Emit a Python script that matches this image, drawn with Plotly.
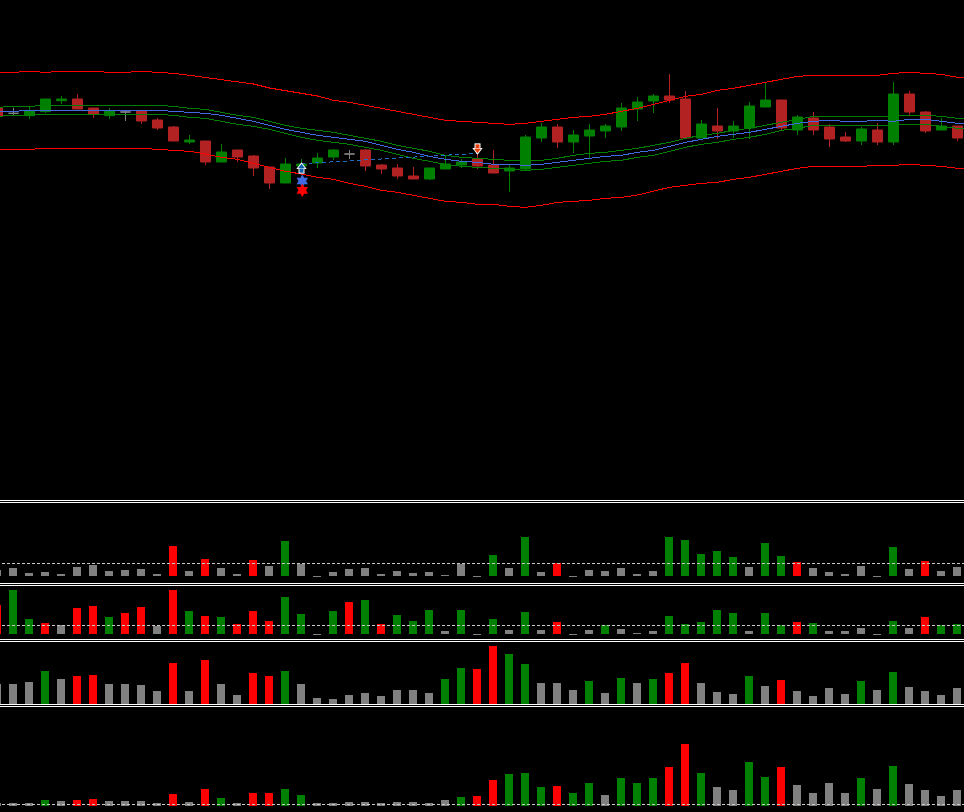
import plotly.graph_objects as go

bar_index = list(range(61))
line_index = list(range(62))

# Candles (i = 0..60)
open_ = [857,840,833,845,878,883,856,833,844,847,820,799,754,757,694,730,712,679,631,682,691,709,718,730,685,676,652,643,673,685,703,685,667,673,766,799,754,772,787,799,853,877,892,883,766,802,787,796,859,880,790,826,799,769,757,790,754,898,844,790,802]
high = [857,857,859,883,892,898,856,856,850,847,826,802,775,757,748,730,715,679,706,703,721,733,730,733,688,688,679,676,712,703,721,730,685,775,811,808,790,808,808,871,889,898,958,907,820,856,817,874,934,880,835,844,808,784,799,811,934,907,847,826,802]
low = [832,834,823,841,868,853,826,823,817,808,790,757,748,685,694,694,652,613,631,670,676,700,703,667,658,643,643,640,673,676,673,661,604,667,754,736,721,706,766,787,817,841,871,763,766,763,766,763,859,787,775,775,739,754,745,745,745,835,781,790,757]
close = [832,840,847,883,883,853,838,847,844,817,796,757,760,694,724,709,676,631,688,688,706,730,718,682,673,652,643,676,688,694,682,661,676,769,799,754,775,790,802,856,874,892,880,766,808,787,802,862,880,796,829,790,763,757,793,754,898,844,787,802,766]
doji_index = [1, 8, 22]

# Envelope bands
band_upper = [963,963,966,963,966,966,966,963,963,966,963,960,954,948,942,936,928,916,908,900,892,879,873,864,855,846,837,828,819,816,813,810,807,810,816,822,828,831,837,846,855,867,879,891,897,909,915,924,933,942,951,954,954,954,954,954,960,963,960,957,948,946]
band_lower = [732,732,732,735,735,735,735,735,735,735,732,729,726,718,708,702,690,678,666,658,648,642,630,621,609,603,594,585,576,573,567,567,561,558,564,573,576,579,585,588,595,606,618,624,630,633,642,648,657,666,675,681,681,681,681,684,684,687,684,681,675,673]
ma_mid = [846,846,849,849,849,849,849,849,849,849,849,846,843,840,834,825,816,804,792,783,774,768,762,756,744,732,723,711,702,696,693,687,687,684,687,693,699,705,711,714,723,729,741,753,762,771,777,783,792,801,810,816,819,816,816,819,816,822,822,816,810,808]
ma_upper = [858,861,861,864,864,864,864,864,864,864,864,861,855,852,843,834,828,816,804,795,789,783,774,765,756,744,735,726,714,708,705,702,699,699,699,705,714,720,723,729,735,744,753,765,774,780,789,795,804,813,822,831,831,831,831,831,831,834,834,831,825,823]
ma_lower = [831,834,834,837,837,837,837,837,837,837,837,834,828,825,816,807,801,792,780,768,759,753,747,738,729,717,705,696,687,681,678,675,672,669,672,678,684,690,696,699,708,714,726,738,747,753,762,768,777,789,795,804,804,804,804,804,804,807,807,801,795,793]

# Trade link and signals
trade_x = [19, 30]
trade_y = [689, 720]
star_blue_x, star_blue_y = [19.05], [637]
star_red_x, star_red_y = [19.05], [609]
buy_x = [19, 19, 19, 19]
buy_y = [668, 680, 668, 680]
sell_x = [30, 30, 30, 30]
sell_y = [741, 729, 741, 729]

# Volume panels
p1_values = [6,8,3,4,2,9,11,5,6,7,2,30,5,17,8,2,16,10,35,12,-1,4,7,8,2,5,3,4,1,12,-1,21,8,39,4,13,-1,6,5,8,2,5,39,36,22,25,19,9,33,20,14,8,4,2,10,-1,29,7,15,5,9]
p1_colors = "ggggggggggg" "rgrggrgGgg" "gggggggggg" "GgGgrggggg" "gGGGGGgGGr" "gggggGgrgg"
p2_values = [29,44,15,11,9,26,28,17,21,27,8,44,23,18,17,10,23,13,37,20,-1,23,32,34,10,19,13,24,3,24,-1,15,4,22,4,12,-1,4,9,5,1,3,18,10,12,24,21,3,21,9,12,11,3,3,6,-1,13,6,17,9,10]
p2_colors = "rGGrgrrGrrg" "rGrGrrrGGg" "GrGrGGGgGg" "GgGgrggGgg" "gGGGGGgGGr" "GggggGgrGG"
p3_values = [20,20,22,33,25,28,29,20,20,19,13,41,13,44,20,9,31,28,33,20,6,5,9,11,8,14,14,11,25,36,35,58,50,40,21,21,14,23,11,26,21,25,31,41,21,12,10,28,18,24,13,8,16,10,23,14,32,17,13,9,16]
p3_colors = "gggGgrrgggg" "rgrggrrGgg" "gggggggGGr" "rGGgggGgGg" "GrrgggGgrg" "gggGgGgggg"
p4_values = [3,3,3,6,5,6,7,5,5,5,3,12,4,17,8,3,13,13,17,11,3,3,4,4,3,4,4,3,6,9,10,26,32,33,19,20,13,23,11,28,23,28,39,62,33,19,16,44,29,39,21,13,23,13,28,17,40,22,16,10,16]
p4_colors = "gggGgrrgggg" "rgrGgrrGGg" "ggggggggGr" "rGGGrGGgGG" "GrrGggGGrg" "gggGgGgggg"
p1_level, p2_level, p4_level = 12.5, 8.5, 1.5

W, H = 964, 812
PALETTE = {"g": "#808080", "r": "#ff0000", "G": "#008000"}
CANDLE_UP, CANDLE_DOWN, DOJI = "#008000", "#b22222", "#808080"


def dom(top, bottom):
    return [1 - bottom / H, 1 - top / H]


fig = go.Figure()


def pick(arr, keep):
    return [v if keep(i) else None for i, v in enumerate(arr)]


is_doji = lambda i: i in doji_index
not_doji = lambda i: i not in doji_index

for keep, up, down in [(not_doji, CANDLE_UP, CANDLE_DOWN), (is_doji, DOJI, DOJI)]:
    fig.add_trace(go.Candlestick(
        x=bar_index,
        open=pick(open_, keep), high=pick(high, keep), low=pick(low, keep), close=pick(close, keep),
        increasing=dict(line=dict(color=up, width=1), fillcolor=up),
        decreasing=dict(line=dict(color=down, width=1), fillcolor=down),
        whiskerwidth=0, xaxis="x", yaxis="y", hoverinfo="skip",
    ))


def line(y, color, width=1, dash="solid", x=line_index):
    fig.add_trace(go.Scatter(x=x, y=y, mode="lines", line=dict(color=color, width=width, dash=dash),
                             xaxis="x", yaxis="y", hoverinfo="skip"))


line(ma_upper, "#008000")
line(ma_lower, "#008000")
line(ma_mid, "#4169e1")
line(band_upper, "#ff0000")
line(band_lower, "#ff0000")
line(trade_y, "#1e6ec8", dash="4px,3px", x=trade_x)


def marker(x, y, symbol, fill, size):
    fig.add_trace(go.Scatter(x=x, y=y, mode="markers",
                             marker=dict(symbol=symbol, color=fill, size=size, opacity=1, line=dict(width=0)),
                             xaxis="x", yaxis="y", hoverinfo="skip"))


marker(star_blue_x, star_blue_y, "hexagram", "#4169e1", 10)
marker(star_red_x, star_red_y, "hexagram", "#ff0000", 10)
marker(buy_x, buy_y, ["square", "triangle-up", "square", "triangle-up"],
       ["#ffffff", "#ffffff", "#0a5ea8", "#0a5ea8"], [6, 9, 4, 6])
marker(sell_x, sell_y, ["square", "triangle-down", "square", "triangle-down"],
       ["#ffffff", "#ffffff", "#e8400f", "#e8400f"], [6, 9, 4, 6])

panels = [
    (2, p1_values, p1_colors, p1_level, 503, 583, [-7, 73]),
    (3, p2_values, p2_colors, p2_level, 586, 639, [-5, 48]),
    (4, p3_values, p3_colors, None, 642, 704, [0, 62]),
    (5, p4_values, p4_colors, p4_level, 707, 812, [-6, 99]),
]
layout_axes = {}
hidden = dict(visible=False, showgrid=False, zeroline=False, fixedrange=True)
layout_axes["xaxis"] = dict(hidden, range=[2.5 / 16, 966.5 / 16], rangeslider=dict(visible=False), domain=[0, 1], anchor="y")
layout_axes["yaxis"] = dict(hidden, range=[-320, 1180], domain=dom(0, 500), anchor="x")

for n, vals, cols, level, top, bottom, yr in panels:
    fig.add_trace(go.Bar(x=bar_index, y=vals, width=0.5, marker=dict(color=[PALETTE[c] for c in cols], line=dict(width=0)),
                         xaxis=f"x{n}", yaxis=f"y{n}", hoverinfo="skip"))
    if level is not None:
        fig.add_trace(go.Scatter(x=[0, 61], y=[level, level], mode="lines",
                                 line=dict(color="#c8c8c8", width=1, dash="3px,2px"),
                                 xaxis=f"x{n}", yaxis=f"y{n}", hoverinfo="skip"))
    layout_axes[f"xaxis{n}"] = dict(hidden, range=[3 / 16, 967 / 16], domain=[0, 1], anchor=f"y{n}")
    layout_axes[f"yaxis{n}"] = dict(hidden, range=yr, domain=dom(top, bottom), anchor=f"x{n}")

shapes = []
for row in [500, 502, 583, 585, 639, 641, 704, 706]:
    shapes.append(dict(type="rect", xref="paper", yref="paper", x0=0, x1=1,
                       y0=1 - (row + 1) / H, y1=1 - row / H,
                       fillcolor="#ffffff", line=dict(width=0), layer="above"))

fig.update_layout(
    width=W, height=H, autosize=False,
    margin=dict(l=0, r=0, t=0, b=0, pad=0),
    paper_bgcolor="#000000", plot_bgcolor="#000000",
    showlegend=False, shapes=shapes, boxgap=0.375, boxgroupgap=0, barmode="overlay", hovermode=False,
    **layout_axes,
)

fig.write_html(
    "out.html",
    config={"displayModeBar": False},
    post_script=(
        "document.documentElement.style.overflow='hidden';"
        "document.body.style.margin='0';document.body.style.background='#000';"
        "document.querySelectorAll('.js-line').forEach(function(p){p.style.shapeRendering='crispEdges';});"
    ),
)
